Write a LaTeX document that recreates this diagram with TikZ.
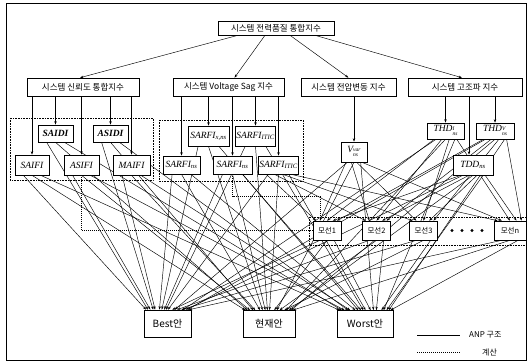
\documentclass[tikz,border=0pt]{standalone}
\usepackage{fontspec}
\setmainfont{Liberation Serif}
\newfontfamily\kr{Noto Sans CJK KR}
\usetikzlibrary{arrows.meta,calc}
\pgfdeclarelayer{bg}
\pgfsetlayers{bg,main}
\newcommand{\supsub}[2]{\raisebox{-0.35ex}{\fontsize{5.5}{5.5}\selectfont\begin{tabular}{@{}l@{}}#1\\[-0.5pt]#2\end{tabular}}}
\begin{document}
\begin{tikzpicture}[x=1pt,y=-1pt,
  box/.style={draw, fill=white, line width=0.6pt, inner sep=1pt, font=\kr\fontsize{8.5}{9}\selectfont},
  idx/.style={draw, fill=white, line width=0.6pt, inner sep=1pt, font=\fontsize{9.5}{10}\selectfont\itshape},
  alt/.style={draw, fill=white, line width=0.6pt, inner sep=1pt, font=\kr\fontsize{10}{11}\selectfont},
  bus/.style={draw, fill=white, line width=0.6pt, inner sep=1pt, font=\kr\fontsize{7.5}{8}\selectfont, minimum height=19, minimum width=28},
  lgd/.style={inner sep=0pt, anchor=west, font=\kr\fontsize{8}{9}\selectfont},
  arr/.style={-{Stealth[length=3.5pt,width=2.4pt]}, line width=0.45pt},
  grp/.style={densely dotted, line width=0.6pt},
  calcl/.style={densely dotted, line width=1pt},
]
\useasboundingbox (0,0) rectangle (528,363);
\draw[line width=0.6pt] (6,3) rectangle (526,360);

% dotted groups
\draw[grp] (10,118) rectangle (153,180);
\draw[grp] (159,120) rectangle (303,181);
\draw[grp] (309,217) rectangle (526,245);

% top levels
\node[box, minimum width=116, minimum height=14] (top) at (276,28) {시스템 전력품질 통합지수};
\node[box, minimum width=112, minimum height=18] (rel) at (83,87) {시스템 신뢰도 통합지수};
\node[box, minimum width=111, minimum height=18] (sag) at (228.5,87) {시스템 Voltage Sag 지수};
\node[box, minimum width=95, minimum height=18] (var) at (348.5,87) {시스템 전압변동 지수};
\node[box, minimum width=114, minimum height=18] (har) at (465,87) {시스템 고조파 지수};

% reliability indices
\node[idx, minimum width=35, minimum height=17] (saidi) at (55.5,133.5) {\bfseries SAIDI};
\node[idx, minimum width=35, minimum height=17] (asidi) at (110.5,133.5) {\bfseries ASIDI};
\node[idx, minimum width=34, minimum height=20] (saifi) at (32,165) {SAIFI};
\node[idx, minimum width=35, minimum height=20] (asifi) at (81.5,165) {ASIFI};
\node[idx, minimum width=37, minimum height=20] (maifi) at (131.5,165) {MAIFI};

% sag indices
\node[idx, minimum width=41, minimum height=20] (su1) at (208.5,136) {SARFI\textsubscript{x,ns}};
\node[idx, minimum width=37, minimum height=20] (su2) at (255.5,136) {SARFI\textsubscript{ITIC}};
\node[idx, minimum width=37, minimum height=18] (sl1) at (181.5,165) {SARFI\textsubscript{ns}};
\node[idx, minimum width=39, minimum height=18] (sl2) at (232.5,165) {SARFI\textsubscript{ns}};
\node[idx, minimum width=39, minimum height=18] (sl3) at (278.5,165) {SARFI\textsubscript{ITIC}};

% voltage variation, harmonics
\node[idx, minimum width=26, minimum height=20] (vv) at (354,152) {V\supsub{var}{ns}};
\node[idx, minimum width=37, minimum height=16] (thdi) at (445.5,131) {THD\supsub{I}{ns}};
\node[idx, minimum width=38, minimum height=16] (thdv) at (495,131) {THD\supsub{V}{ns}};
\node[idx, minimum width=40, minimum height=20] (tdd) at (473,165) {TDD\textsubscript{ns}};

% feeders
\node[bus] (f1) at (327,230.5) {모선1};
\node[bus] (f2) at (376.5,230.5) {모선2};
\node[bus] (f3) at (423.5,230.5) {모선3};
\node[bus, minimum width=32] (fn) at (510,230.5) {모선n};
\foreach \x in {452,462,472,482} \fill (\x,230.5) circle (1.6);

% alternatives
\node[alt, minimum width=47, minimum height=27] (best) at (167.5,323.5) {Best안};
\node[alt, minimum width=52, minimum height=27] (cur) at (269,324) {현재안};
\node[alt, minimum width=56, minimum height=27] (worst) at (365,324) {Worst안};

% top arrows
\draw[arr] ($(top.south)+(-38,0)$) -- ($(rel.north)+(-3,0)$);
\draw[arr] ($(top.south)+(-11,0)$) -- ($(sag.north)+(6,0)$);
\draw[arr] ($(top.south)+(14,0)$) -- (var.north);
\draw[arr] ($(top.south)+(39,0)$) -- ($(har.north)+(-3,0)$);

% level 2 -> level 3
\foreach \n in {saifi,saidi,asifi,asidi,maifi} \draw[arr] (rel.south -| \n.north) -- (\n.north);
\foreach \n in {sl1,su1,sl2,su2,sl3} \draw[arr] (sag.south -| \n.north) -- (\n.north);
\draw[arr] (var.south -| vv.north) -- (vv.north);
\draw[arr] (har.south -| thdi.north) -- (thdi.north);
\draw[arr] (har.south -| thdv.north) -- (thdv.north);
\coordinate (tx) at (469,0);
\draw[arr] (har.south -| tx) -- (tdd.north -| tx);

% calculation paths
\draw[calcl] (asifi.south) |- (f1.west);
\coordinate (c1) at (320,197);
\draw[calcl] (sl2.south) |- (c1) -- (c1 |- f1.north);

% ANP network
\begin{pgfonlayer}{bg}
\foreach \s/\f in {saifi/0.05,asifi/0.14,maifi/0.24,saidi/0.09,asidi/0.2,su1/0.38,su2/0.47,sl1/0.33,sl2/0.43,sl3/0.51,vv/0.65,thdi/0.83,thdv/0.92,tdd/0.88,f1/0.6,f2/0.7,f3/0.79,fn/0.95}
  \foreach \t/\g in {best/0.25,cur/0.5,worst/0.75}
    \draw[arr] ($(\s.south west)!\g!(\s.south east)$) -- ($(\t.north west)!\f!(\t.north east)$);
\foreach \s/\f in {sl3/0.12,vv/0.25,thdi/0.5,tdd/0.7,thdv/0.85}
  \foreach \t/\g in {f1/0.2,f2/0.4,f3/0.6,fn/0.8}
    \draw[arr] ($(\s.south west)!\g!(\s.south east)$) -- ($(\t.north west)!\f!(\t.north east)$);
\end{pgfonlayer}

% legend
\coordinate (la) at (417,335);
\coordinate (lb) at (460,335);
\draw[line width=0.6pt] (la) -- (lb);
\node[lgd] (lg1) at (469,335) {ANP 구조};
\coordinate (lc) at (417,353);
\coordinate (ld) at (460,353);
\draw[calcl] (lc) -- (ld);
\node[lgd] (lg2) at (482,353) {계산};
\end{tikzpicture}
\end{document}
